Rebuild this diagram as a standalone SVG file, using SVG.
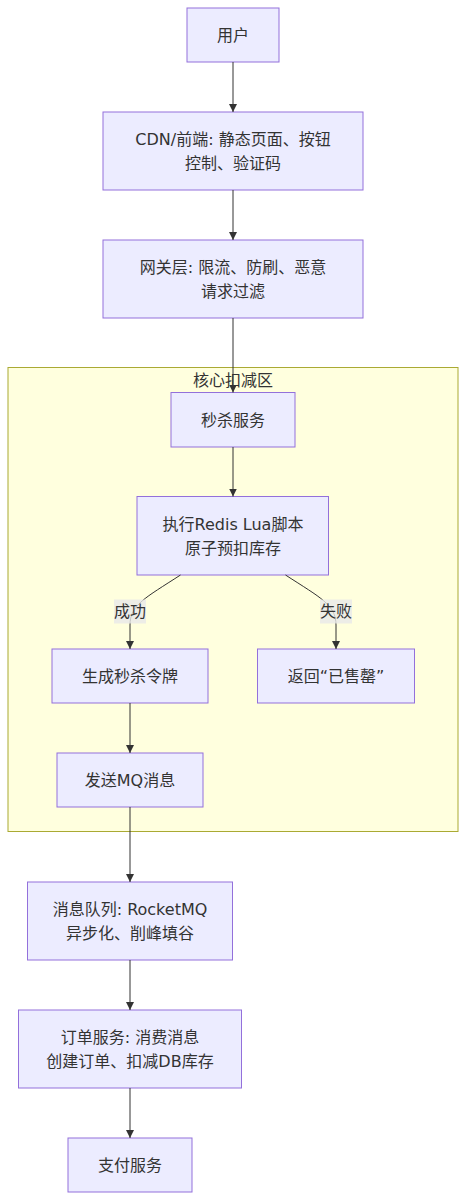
<svg xmlns="http://www.w3.org/2000/svg" width="466" height="1200" viewBox="0 0 466 1200">
<style>
.node rect{fill:#ECECFF;stroke:#9370DB;stroke-width:1}
text{font-family:"DejaVu Sans","Noto Sans CJK SC",sans-serif;font-size:16px;fill:#333;text-anchor:middle;dominant-baseline:central}
.edge{fill:none;stroke:#333;stroke-width:1}
.lbl rect{fill:#e8e8e8;opacity:0.8}
</style>
<defs>
<marker id="arr" viewBox="0 0 10 10" refX="10" refY="5" markerWidth="8" markerHeight="8" markerUnits="userSpaceOnUse" orient="auto">
<path d="M0,0 L10,5 L0,10 z" fill="#333"/>
</marker>
</defs>
<rect width="466" height="1200" fill="#ffffff"/>
<g id="cluster">
<rect x="8" y="367.5" width="450" height="464" fill="#ffffde" stroke="#aaaa33" stroke-width="1"/>
<text x="233" y="380">核心扣减区</text>
</g>
<g id="n-user" class="node"><rect x="187" y="8" width="92" height="54"/><text x="233" y="35">用户</text></g>
<g id="n-cdn" class="node"><rect x="103" y="112" width="260" height="78"/><text x="233" y="139">CDN/前端: 静态页面、按钮</text><text x="233" y="163">控制、验证码</text></g>
<g id="n-gw" class="node"><rect x="103" y="240" width="260" height="78"/><text x="233" y="267">网关层: 限流、防刷、恶意</text><text x="233" y="291">请求过滤</text></g>
<g id="n-seckill" class="node"><rect x="171" y="392.5" width="124" height="54.5"/><text x="233" y="420">秒杀服务</text></g>
<g id="n-redis" class="node"><rect x="137" y="496.5" width="191.5" height="78.5"/><text x="233" y="524">执行Redis Lua脚本</text><text x="233" y="548">原子预扣库存</text></g>
<g id="n-token" class="node"><rect x="52" y="649" width="156" height="54"/><text x="130" y="676">生成秒杀令牌</text></g>
<g id="n-soldout" class="node"><rect x="257.5" y="649" width="157" height="54"/><text x="336" y="676">返回“已售罄”</text></g>
<g id="n-sendmq" class="node"><rect x="57" y="753" width="146" height="54"/><text x="130" y="780">发送MQ消息</text></g>
<g id="n-mq" class="node"><rect x="27.5" y="882" width="205" height="78"/><text x="130" y="909">消息队列: RocketMQ</text><text x="130" y="933">异步化、削峰填谷</text></g>
<g id="n-order" class="node"><rect x="18.5" y="1010" width="223" height="78"/><text x="130" y="1037">订单服务: 消费消息</text><text x="130" y="1061">创建订单、扣减DB库存</text></g>
<g id="n-pay" class="node"><rect x="68" y="1138" width="124" height="54"/><text x="130" y="1165">支付服务</text></g>
<g id="connectors">
<path class="edge" d="M233,62 L233,112" marker-end="url(#arr)"/>
<path class="edge" d="M233,190 L233,240" marker-end="url(#arr)"/>
<path class="edge" d="M233,318 L233,392.5" marker-end="url(#arr)"/>
<path class="edge" d="M233,447 L233,496.5" marker-end="url(#arr)"/>
<path class="edge" d="M180.5,575 C145,598 130,605 130,625 L130,649" marker-end="url(#arr)"/>
<path class="edge" d="M285.5,575 C321,598 336,605 336,625 L336,649" marker-end="url(#arr)"/>
<path class="edge" d="M130,703 L130,753" marker-end="url(#arr)"/>
<path class="edge" d="M130,807 L130,882" marker-end="url(#arr)"/>
<path class="edge" d="M130,960 L130,1010" marker-end="url(#arr)"/>
<path class="edge" d="M130,1088 L130,1138" marker-end="url(#arr)"/>
<g class="lbl"><rect x="114" y="599.5" width="32" height="24"/><text x="130" y="611.5">成功</text></g>
<g class="lbl"><rect x="320" y="599.5" width="32" height="24"/><text x="336" y="611.5">失败</text></g>
</g>
</svg>
